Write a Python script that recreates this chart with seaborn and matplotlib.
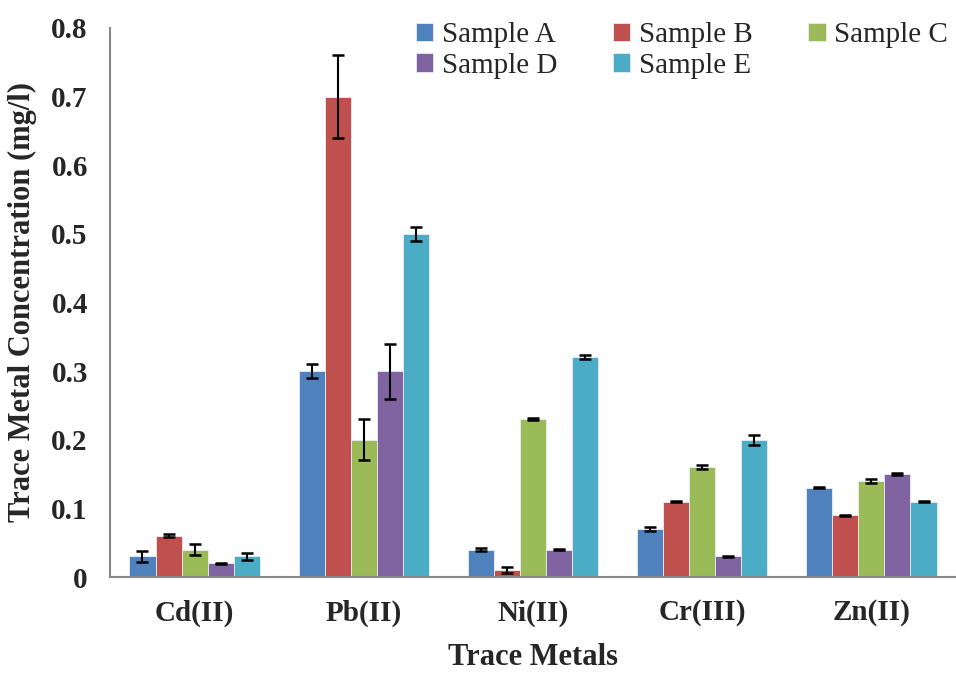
import numpy as np
import pandas as pd
import matplotlib
matplotlib.use("Agg")
import matplotlib.pyplot as plt
import seaborn as sns

# =====================================
# Data
# =====================================

metals = ["Cd(II)", "Pb(II)", "Ni(II)", "Cr(III)", "Zn(II)"]
samples = ["Sample A", "Sample B", "Sample C", "Sample D", "Sample E"]

sample_a = [0.03, 0.30, 0.04, 0.07, 0.13]
sample_b = [0.06, 0.70, 0.01, 0.11, 0.09]
sample_c = [0.04, 0.20, 0.23, 0.16, 0.14]
sample_d = [0.02, 0.30, 0.04, 0.03, 0.15]
sample_e = [0.03, 0.50, 0.32, 0.20, 0.11]

err_a = [0.0075, 0.010, 0.002, 0.003, 0.001]
err_b = [0.002, 0.060, 0.004, 0.001, 0.001]
err_c = [0.008, 0.030, 0.001, 0.003, 0.003]
err_d = [0.001, 0.040, 0.001, 0.001, 0.001]
err_e = [0.005, 0.010, 0.003, 0.007, 0.001]

colors = ["#4F81BD", "#C0504D", "#9BBB59", "#8064A2", "#4BACC6"]

values = [sample_a, sample_b, sample_c, sample_d, sample_e]
errors = [err_a, err_b, err_c, err_d, err_e]

rows = []
for s, vals, errs in zip(samples, values, errors):
    for m, v, e in zip(metals, vals, errs):
        rows.append({"Metal": m, "Sample": s, "Value": v, "Err": e})
df = pd.DataFrame(rows)

# =====================================
# Plot
# =====================================

sns.set_style("white")
plt.rcParams["font.family"] = ["Liberation Serif", "DejaVu Serif"]

fig = plt.figure(figsize=(9.56, 6.73), dpi=100)
ax = fig.add_axes([110 / 956, 96 / 673, (956 - 110) / 956, 549 / 673])

sns.barplot(
    data=df,
    x="Metal",
    y="Value",
    hue="Sample",
    palette=colors,
    saturation=1,
    width=0.77,
    gap=0,
    errorbar=None,
    edgecolor="#e8eef5",
    linewidth=0.6,
    ax=ax,
)

# error bars on each bar
for container, s in zip(ax.containers, samples):
    sub = df[df["Sample"] == s]
    xs = [p.get_x() + p.get_width() / 2 for p in container.patches]
    ax.errorbar(
        xs, sub["Value"].values, yerr=sub["Err"].values,
        fmt="none", ecolor="black", elinewidth=1.5,
        capsize=4.3, capthick=1.8, zorder=5,
    )

ax.set_ylim(0, 0.8)
ax.set_xlim(-0.5, -0.5 + (956 - 110) / 171)
ax.set_yticks(np.arange(0, 0.81, 0.1))
ax.set_yticklabels(["0"] + [f"{t:.1f}" for t in np.arange(0.1, 0.81, 0.1)],
                   fontsize=21, fontweight="bold")

# category labels centered, ticks at boundaries
ax.set_xticks(range(len(metals)))
ax.set_xticklabels(metals, fontsize=21, fontweight="bold")
ax.tick_params(axis="x", length=0, pad=16)
ax.set_xticks(np.arange(-0.5, 5.0, 1.0), minor=True)
ax.tick_params(axis="x", which="minor", length=8, width=1.5, color="#888888", direction="out")
ax.tick_params(axis="y", length=6, width=1.5, color="#888888", direction="out", pad=10)

for side in ["top", "right"]:
    ax.spines[side].set_visible(False)
for side in ["left", "bottom"]:
    ax.spines[side].set_color("#888888")
    ax.spines[side].set_linewidth(1.5)

ax.set_xlabel("Trace Metals", fontsize=22, fontweight="bold", labelpad=12)
ax.set_ylabel("Trace Metal Concentration (mg/l)", fontsize=22, fontweight="bold", labelpad=10)

# legend filled row by row: A B C / D E
handles, labels = ax.get_legend_handles_labels()
order = [0, 3, 1, 4, 2]
ax.legend(
    [handles[i] for i in order], [labels[i] for i in order],
    ncol=3, frameon=False, fontsize=21,
    loc="upper right", bbox_to_anchor=(1.022, 1.058),
    handlelength=0.6, handleheight=0.6, handletextpad=0.3,
    columnspacing=1.9, labelspacing=0.15,
)

plt.savefig("out.png", dpi=100)
